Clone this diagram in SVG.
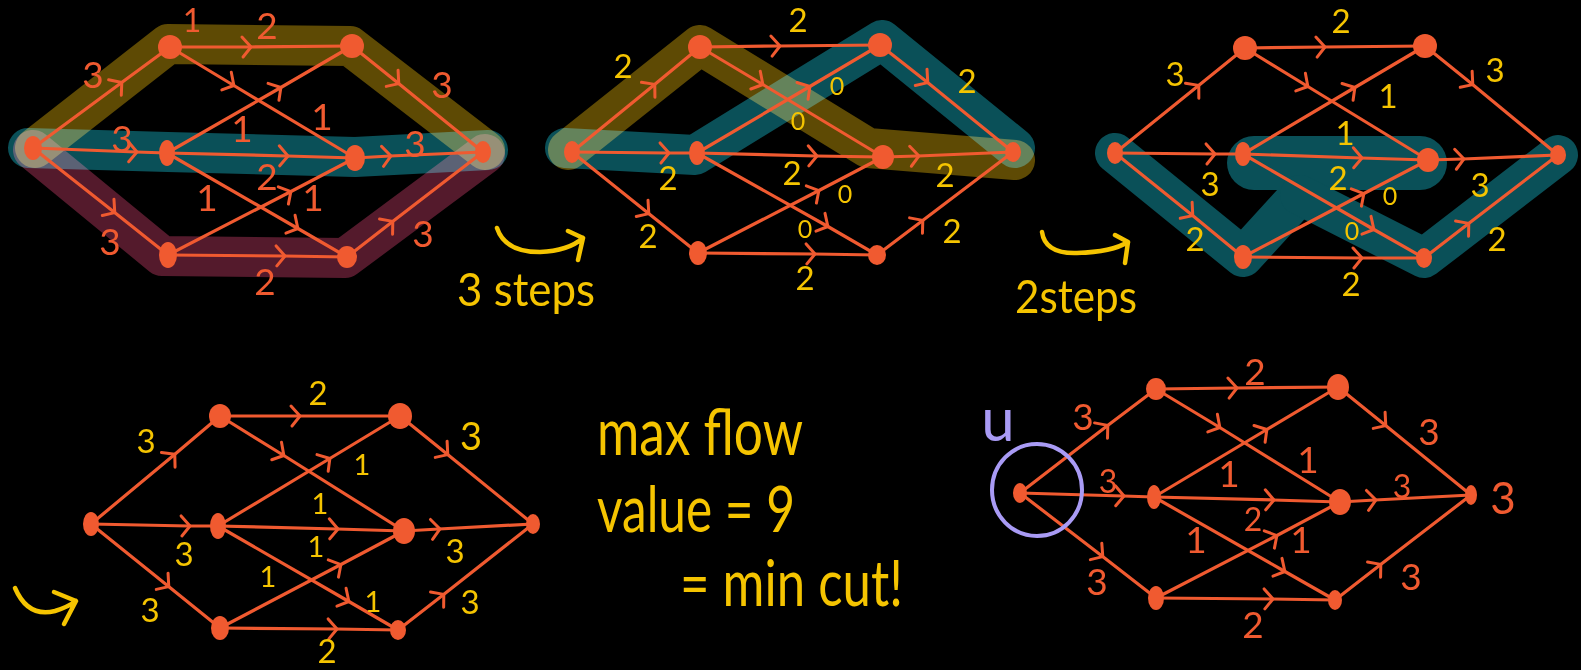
<svg xmlns="http://www.w3.org/2000/svg" width="1581" height="670" viewBox="0 0 1581 670">
<defs>
<marker id="chev" markerUnits="userSpaceOnUse" markerWidth="30" markerHeight="30" viewBox="-15 -15 30 30" refX="0" refY="0" orient="auto">
<path d="M -8 -10 L 1 0 L -7 10" fill="none" stroke="#f05a30" stroke-width="3" stroke-linecap="round" stroke-linejoin="round"/>
</marker>
</defs>
<style>
.bg{fill:#000}
.hl{fill:none;stroke-linecap:round;stroke-linejoin:round;stroke-width:40;mix-blend-mode:screen}
.hs{fill:none;stroke-linecap:round;stroke-linejoin:round;stroke-width:40}
.olive{stroke:#5e4a04}
.teal{stroke:#0a5058}
.maroon{stroke:#541a2c}
.e{fill:none;stroke:#f05a30;stroke-width:3.2;stroke-linecap:round;marker-mid:url(#chev)}
.n{fill:#f05a30}
text{font-family:Lato,"Open Sans","Noto Sans",sans-serif;text-anchor:middle;dominant-baseline:central}
.lo{fill:#f05a30;font-size:37px}
.ly{fill:#f5c400;font-size:33px}
.z{font-size:25px}
.big{fill:#f5c400;font-size:64px;text-anchor:start;dominant-baseline:auto}
.stp{fill:#f5c400;font-size:47px;text-anchor:start;dominant-baseline:auto}
.arr{fill:none;stroke:#f5c400;stroke-width:4.5;stroke-linecap:round;stroke-linejoin:round}
</style>
<rect class="bg" x="0" y="0" width="1581" height="670"/>

<!-- Graph 1 -->
<g id="graph1">
<g id="g1-highlights">
<path class="hl olive" d="M 35 148 L 168 44 L 350 46 L 485 150"/>
<path class="hl teal" d="M 28 148 L 168 152 L 355 157 L 488 150"/>
<path class="hl maroon" d="M 33 150 L 162 256 L 345 258 L 485 154"/>
</g>
<g id="g1-edges">
<path class="e" d="M 33 148 L 121 83 L 170 47"/>
<path class="e" d="M 170 47 L 250 47 L 352 46"/>
<path class="e" d="M 352 46 L 398 83 L 483 152"/>
<path class="e" d="M 170 47 L 233 85 L 355 158"/>
<path class="e" d="M 167 153 L 280 88 L 352 46"/>
<path class="e" d="M 33 148 L 136 152 L 167 153"/>
<path class="e" d="M 167 153 L 287 156 L 355 158"/>
<path class="e" d="M 355 158 L 390 156 L 483 152"/>
<path class="e" d="M 168 255 L 290 192 L 355 158"/>
<path class="e" d="M 167 153 L 297 228 L 347 257"/>
<path class="e" d="M 33 148 L 114 212 L 168 255"/>
<path class="e" d="M 168 255 L 284 256 L 347 257"/>
<path class="e" d="M 347 257 L 392 222 L 483 152"/>
</g>
<g id="g1-labels">
<text class="lo" x="192" y="19" style="font-size:32px">1</text>
<text class="lo" x="267" y="24">2</text>
<text class="lo" x="93" y="73">3</text>
<text class="lo" x="442" y="83">3</text>
<text class="lo" x="242" y="127">1</text>
<text class="lo" x="322" y="115">1</text>
<text class="lo" x="122" y="137">3</text>
<text class="lo" x="415" y="142">3</text>
<text class="lo" x="267" y="175">2</text>
<text class="lo" x="207" y="196">1</text>
<text class="lo" x="313" y="196">1</text>
<text class="lo" x="110" y="240">3</text>
<text class="lo" x="423" y="232">3</text>
<text class="lo" x="265" y="280">2</text>
</g>
<g id="g1-s"><ellipse class="n" cx="33" cy="148" rx="9" ry="12"/></g>
<g id="g1-a"><ellipse class="n" cx="170" cy="47" rx="12" ry="12"/></g>
<g id="g1-d"><ellipse class="n" cx="352" cy="46" rx="12" ry="12"/></g>
<g id="g1-b"><ellipse class="n" cx="167" cy="153" rx="8" ry="13"/></g>
<g id="g1-e"><ellipse class="n" cx="355" cy="158" rx="10" ry="13"/></g>
<g id="g1-c"><ellipse class="n" cx="168" cy="255" rx="9" ry="13"/></g>
<g id="g1-f"><ellipse class="n" cx="347" cy="257" rx="10" ry="11"/></g>
<g id="g1-t"><ellipse class="n" cx="483" cy="152" rx="8" ry="11"/></g>
</g>

<!-- 3 steps -->
<g id="step1">
<path class="arr" d="M 497 228 Q 505 252 540 252 Q 568 251 583 238 M 568 231 L 583 238 L 578 260"/>
<text class="stp" x="457" y="306" textLength="138" lengthAdjust="spacingAndGlyphs">3 steps</text>
</g>

<!-- Graph 2 -->
<g id="graph2">
<g id="g2-highlights">
<path class="hl olive" d="M 568 150 L 700 45 L 868 148 L 1015 160"/>
<path class="hl teal" d="M 565 148 L 695 155 L 882 40 L 1015 148"/>
</g>
<g id="g2-edges">
<path class="e" d="M 572 152 L 654 85 L 700 47"/>
<path class="e" d="M 700 47 L 779 46 L 880 45"/>
<path class="e" d="M 880 45 L 927 82 L 1013 152"/>
<path class="e" d="M 700 47 L 762 84 L 883 157"/>
<path class="e" d="M 697 153 L 809 87 L 880 45"/>
<path class="e" d="M 572 152 L 668 153 L 697 153"/>
<path class="e" d="M 697 153 L 816 156 L 883 157"/>
<path class="e" d="M 883 157 L 918 156 L 1013 152"/>
<path class="e" d="M 698 253 L 818 191 L 883 157"/>
<path class="e" d="M 697 153 L 827 226 L 877 255"/>
<path class="e" d="M 572 152 L 648 213 L 698 253"/>
<path class="e" d="M 698 253 L 814 254 L 877 255"/>
<path class="e" d="M 877 255 L 922 221 L 1013 152"/>
</g>
<g id="g2-labels">
<text class="ly" x="623" y="65">2</text>
<text class="ly" x="798" y="19">2</text>
<text class="ly z" x="837" y="85">0</text>
<text class="ly z" x="798" y="120">0</text>
<text class="ly" x="967" y="80">2</text>
<text class="ly" x="668" y="177">2</text>
<text class="ly" x="792" y="172">2</text>
<text class="ly z" x="845" y="193">0</text>
<text class="ly" x="945" y="174">2</text>
<text class="ly z" x="805" y="228">0</text>
<text class="ly" x="952" y="230">2</text>
<text class="ly" x="648" y="235">2</text>
<text class="ly" x="805" y="277">2</text>
</g>
<g id="g2-s"><ellipse class="n" cx="572" cy="152" rx="8" ry="11"/></g>
<g id="g2-a"><ellipse class="n" cx="700" cy="47" rx="12" ry="12"/></g>
<g id="g2-d"><ellipse class="n" cx="880" cy="45" rx="12" ry="12"/></g>
<g id="g2-b"><ellipse class="n" cx="697" cy="153" rx="8" ry="12"/></g>
<g id="g2-e"><ellipse class="n" cx="883" cy="157" rx="11" ry="12"/></g>
<g id="g2-c"><ellipse class="n" cx="698" cy="253" rx="9" ry="12"/></g>
<g id="g2-f"><ellipse class="n" cx="877" cy="255" rx="9" ry="10"/></g>
<g id="g2-t"><ellipse class="n" cx="1013" cy="152" rx="8" ry="10"/></g>
</g>

<!-- 2 steps -->
<g id="step2">
<path class="arr" d="M 1042 232 Q 1045 254 1077 253 Q 1112 252 1128 242 M 1115 235 L 1128 242 L 1125 263"/>
<text class="stp" x="1015" y="313" textLength="122" lengthAdjust="spacingAndGlyphs">2steps</text>
</g>

<!-- Graph 3 -->
<g id="graph3">
<g id="g3-highlights">
<path class="hs teal" d="M 1115 153 L 1243 257 L 1295 200"/>
<path class="hs teal" style="stroke-width:54" d="M 1254 163 L 1420 163"/>
<path class="hs teal" d="M 1300 195 L 1424 258 L 1558 155"/>
</g>
<g id="g3-edges">
<path class="e" d="M 1115 153 L 1198 86 L 1245 48"/>
<path class="e" d="M 1245 48 L 1324 47 L 1425 46"/>
<path class="e" d="M 1425 46 L 1472 84 L 1558 155"/>
<path class="e" d="M 1245 48 L 1307 86 L 1428 160"/>
<path class="e" d="M 1243 154 L 1354 88 L 1425 46"/>
<path class="e" d="M 1115 153 L 1214 154 L 1243 154"/>
<path class="e" d="M 1243 154 L 1361 158 L 1428 160"/>
<path class="e" d="M 1428 160 L 1463 159 L 1558 155"/>
<path class="e" d="M 1243 257 L 1363 194 L 1428 160"/>
<path class="e" d="M 1243 154 L 1373 229 L 1424 258"/>
<path class="e" d="M 1115 153 L 1192 215 L 1243 257"/>
<path class="e" d="M 1243 257 L 1361 258 L 1424 258"/>
<path class="e" d="M 1424 258 L 1468 224 L 1558 155"/>
</g>
<g id="g3-labels">
<text class="ly" x="1341" y="20">2</text>
<text class="ly" x="1175" y="73">3</text>
<text class="ly" x="1388" y="95">1</text>
<text class="ly" x="1495" y="69">3</text>
<text class="ly" x="1345" y="132">1</text>
<text class="ly" x="1210" y="183">3</text>
<text class="ly" x="1338" y="177">2</text>
<text class="ly z" x="1390" y="195">0</text>
<text class="ly" x="1480" y="184">3</text>
<text class="ly z" x="1352" y="230">0</text>
<text class="ly" x="1195" y="238">2</text>
<text class="ly" x="1497" y="238">2</text>
<text class="ly" x="1351" y="283">2</text>
</g>
<g id="g3-s"><ellipse class="n" cx="1115" cy="153" rx="8" ry="11"/></g>
<g id="g3-a"><ellipse class="n" cx="1245" cy="48" rx="12" ry="12"/></g>
<g id="g3-d"><ellipse class="n" cx="1425" cy="46" rx="12" ry="12"/></g>
<g id="g3-b"><ellipse class="n" cx="1243" cy="154" rx="8" ry="12"/></g>
<g id="g3-e"><ellipse class="n" cx="1428" cy="160" rx="11" ry="12"/></g>
<g id="g3-c"><ellipse class="n" cx="1243" cy="257" rx="9" ry="12"/></g>
<g id="g3-f"><ellipse class="n" cx="1424" cy="258" rx="8" ry="10"/></g>
<g id="g3-t"><ellipse class="n" cx="1558" cy="155" rx="8" ry="10"/></g>
</g>

<!-- Graph 4 -->
<g id="graph4">
<path class="arr" id="step3-arrow" d="M 15 588 Q 28 618 55 611 Q 68 607 76 601 M 54 592 L 76 601 L 64 624"/>
<g id="g4-edges">
<path class="e" d="M 91 524 L 174 455 L 220 416"/>
<path class="e" d="M 220 416 L 299 416 L 400 416"/>
<path class="e" d="M 400 416 L 447 454 L 533 524"/>
<path class="e" d="M 220 416 L 283 455 L 404 531"/>
<path class="e" d="M 218 526 L 329 459 L 400 416"/>
<path class="e" d="M 91 524 L 189 526 L 218 526"/>
<path class="e" d="M 218 526 L 337 529 L 404 531"/>
<path class="e" d="M 404 531 L 439 529 L 533 524"/>
<path class="e" d="M 220 628 L 340 565 L 404 531"/>
<path class="e" d="M 218 526 L 348 601 L 398 630"/>
<path class="e" d="M 91 524 L 168 586 L 220 628"/>
<path class="e" d="M 220 628 L 336 629 L 398 630"/>
<path class="e" d="M 398 630 L 443 595 L 533 524"/>
</g>
<g id="g4-labels">
<text class="ly" x="318" y="392">2</text>
<text class="ly" x="146" y="440">3</text>
<text class="ly z" x="362" y="463" style="font-size:29px">1</text>
<text class="ly" x="471" y="435" style="font-size:38px">3</text>
<text class="ly z" x="320" y="502" style="font-size:29px">1</text>
<text class="ly z" x="316" y="545" style="font-size:29px">1</text>
<text class="ly" x="184" y="553">3</text>
<text class="ly" x="455" y="550">3</text>
<text class="ly z" x="268" y="575" style="font-size:29px">1</text>
<text class="ly z" x="373" y="600" style="font-size:29px">1</text>
<text class="ly" x="150" y="609">3</text>
<text class="ly" x="470" y="601">3</text>
<text class="ly" x="327" y="650">2</text>
</g>
<g id="g4-s"><ellipse class="n" cx="91" cy="524" rx="8" ry="12"/></g>
<g id="g4-a"><ellipse class="n" cx="220" cy="416" rx="11" ry="12"/></g>
<g id="g4-d"><ellipse class="n" cx="400" cy="416" rx="12" ry="13"/></g>
<g id="g4-b"><ellipse class="n" cx="218" cy="526" rx="8" ry="13"/></g>
<g id="g4-e"><ellipse class="n" cx="404" cy="531" rx="11" ry="13"/></g>
<g id="g4-c"><ellipse class="n" cx="220" cy="628" rx="9" ry="12"/></g>
<g id="g4-f"><ellipse class="n" cx="398" cy="630" rx="8" ry="10"/></g>
<g id="g4-t"><ellipse class="n" cx="533" cy="524" rx="7" ry="10"/></g>
</g>

<!-- Conclusion text -->
<g id="conclusion">
<text class="big" x="597" y="455" textLength="206" lengthAdjust="spacingAndGlyphs">max flow</text>
<text class="big" x="597" y="532" textLength="198" lengthAdjust="spacingAndGlyphs">value = 9</text>
<text class="big" x="680" y="606" textLength="223" lengthAdjust="spacingAndGlyphs">= min cut!</text>
</g>

<!-- Graph 5 -->
<g id="graph5">
<g id="g5-edges">
<path class="e" d="M 1020 493 L 1107 426 L 1156 389"/>
<path class="e" d="M 1156 389 L 1236 388 L 1338 387"/>
<path class="e" d="M 1338 387 L 1385 425 L 1471 495"/>
<path class="e" d="M 1156 389 L 1219 427 L 1340 502"/>
<path class="e" d="M 1154 497 L 1266 430 L 1338 387"/>
<path class="e" d="M 1020 493 L 1123 496 L 1154 497"/>
<path class="e" d="M 1154 497 L 1273 500 L 1340 502"/>
<path class="e" d="M 1340 502 L 1375 500 L 1471 495"/>
<path class="e" d="M 1156 598 L 1276 536 L 1340 502"/>
<path class="e" d="M 1154 497 L 1284 571 L 1335 600"/>
<path class="e" d="M 1020 493 L 1102 556 L 1156 598"/>
<path class="e" d="M 1156 598 L 1272 599 L 1335 600"/>
<path class="e" d="M 1335 600 L 1380 565 L 1471 495"/>
</g>
<g id="g5-labels">
<text class="lo" x="1255" y="370">2</text>
<text class="lo" x="1083" y="415">3</text>
<text class="lo" x="1429" y="430">3</text>
<text class="lo" x="1229" y="472">1</text>
<text class="lo" x="1308" y="458">1</text>
<text class="lo" x="1108" y="480" style="font-size:32px">3</text>
<text class="lo" x="1402" y="485" style="font-size:32px">3</text>
<text class="lo" x="1503" y="497" style="font-size:44px">3</text>
<text class="lo" x="1253" y="518" style="font-size:32px">2</text>
<text class="lo" x="1301" y="538">1</text>
<text class="lo" x="1196" y="538">1</text>
<text class="lo" x="1097" y="580">3</text>
<text class="lo" x="1411" y="575">3</text>
<text class="lo" x="1253" y="623">2</text>
</g>
<g id="g5-s"><ellipse class="n" cx="1020" cy="493" rx="7" ry="10"/></g>
<g id="g5-a"><ellipse class="n" cx="1156" cy="389" rx="10" ry="11"/></g>
<g id="g5-d"><ellipse class="n" cx="1338" cy="387" rx="11" ry="13"/></g>
<g id="g5-b"><ellipse class="n" cx="1154" cy="497" rx="7" ry="12"/></g>
<g id="g5-e"><ellipse class="n" cx="1340" cy="502" rx="11" ry="13"/></g>
<g id="g5-c"><ellipse class="n" cx="1156" cy="598" rx="8" ry="12"/></g>
<g id="g5-f"><ellipse class="n" cx="1335" cy="600" rx="7" ry="10"/></g>
<g id="g5-t"><ellipse class="n" cx="1471" cy="495" rx="6" ry="10"/></g>
<g id="g5-u">
<ellipse cx="1037" cy="490" rx="45" ry="46" fill="none" stroke="#a99bf5" stroke-width="4"/>
<text x="998" y="418" fill="#a99bf5" style="font-size:60px">u</text>
</g>
</g>
</svg>
